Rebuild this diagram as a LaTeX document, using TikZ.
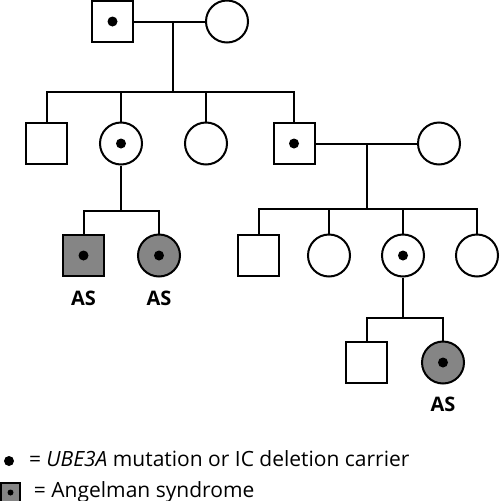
\documentclass[tikz,border=0pt]{standalone}
\usepackage{fontspec}
\setmainfont{Open Sans}
\begin{document}
\begin{tikzpicture}[x=1pt,y=-1pt,
  every path/.style={line width=2pt},
  male/.style={draw, rectangle, minimum size=41pt, inner sep=0pt, line width=2pt, fill=white},
  female/.style={draw, circle, minimum size=42pt, inner sep=0pt, line width=2pt, fill=white},
  affected/.style={fill=black!48},
  carrier/.style={path picture={\fill[black] (path picture bounding box.center) circle (5pt);}},
  aslabel/.style={font=\bfseries\fontsize{20}{20}\selectfont, inner sep=0pt},
  legend/.style={font=\fontsize{21}{22}\selectfont, inner sep=0pt, anchor=base west}]
\useasboundingbox (0,0) rectangle (500,501);
% Generation I
\node[male, carrier] (I1) at (112.5,21.5) {};
\node[female] (I2) at (227,21.5) {};
% Generation II
\node[male] (II1) at (46.5,143.5) {};
\node[female, carrier] (II2) at (121,143.5) {};
\node[female] (II3) at (206,143.5) {};
\node[male, carrier] (II4) at (294,143.5) {};
\node[female] (II5) at (439,143.5) {};
% Generation III
\node[male, affected, carrier] (III1) at (83.5,255.5) {};
\node[female, affected, carrier] (III2) at (159,255.5) {};
\node[male] (III3) at (258.5,255.5) {};
\node[female] (III4) at (329,255.5) {};
\node[female, carrier] (III5) at (403,255.5) {};
\node[female] (III6) at (477,255.5) {};
% Generation IV
\node[male] (IV1) at (366.5,362.5) {};
\node[female, affected, carrier] (IV2) at (443,362.5) {};
% AS labels
\node[aslabel] (as1) at (83.5,298) {AS};
\node[aslabel] (as2) at (159,298) {AS};
\node[aslabel] (as3) at (443,404) {AS};
% connectors
\coordinate (m1) at (173,21.5);
\coordinate (s1) at (173,92);
\draw (I1.east) -- (I2.west);
\draw (m1) -- (s1);
\draw (II1.north) |- (s1) -| (II4.north);
\draw (II2.north) -- (II2.north |- s1);
\draw (II3.north) -- (II3.north |- s1);
\coordinate (m2) at (367,143.5);
\coordinate (s2) at (367,209);
\draw (II4.east) -- (II5.west);
\draw (m2) -- (s2);
\draw (III3.north) |- (s2) -| (III6.north);
\draw (III4.north) -- (III4.north |- s2);
\draw (III5.north) -- (III5.north |- s2);
\coordinate (s3) at (121,211);
\draw (II2.south) -- (s3);
\draw (III1.north) |- (s3) -| (III2.north);
\coordinate (s4) at (403,318);
\draw (III5.south) -- (s4);
\draw (IV1.north) |- (s4) -| (IV2.north);
% legend
\fill (9,461) circle (5pt);
\node[legend] (l1) at (28,466) {= \textit{UBE3A} mutation or IC deletion carrier};
\node[draw, rectangle, fill=black!48, line width=1.5pt, minimum width=19pt, minimum height=19pt, inner sep=0pt,
  path picture={\fill[black] (path picture bounding box.center) circle (3pt);}] (lsq) at (10.5,492.5) {};
\node[legend] (l2) at (33,497) {= Angelman syndrome};
\end{tikzpicture}
\end{document}
